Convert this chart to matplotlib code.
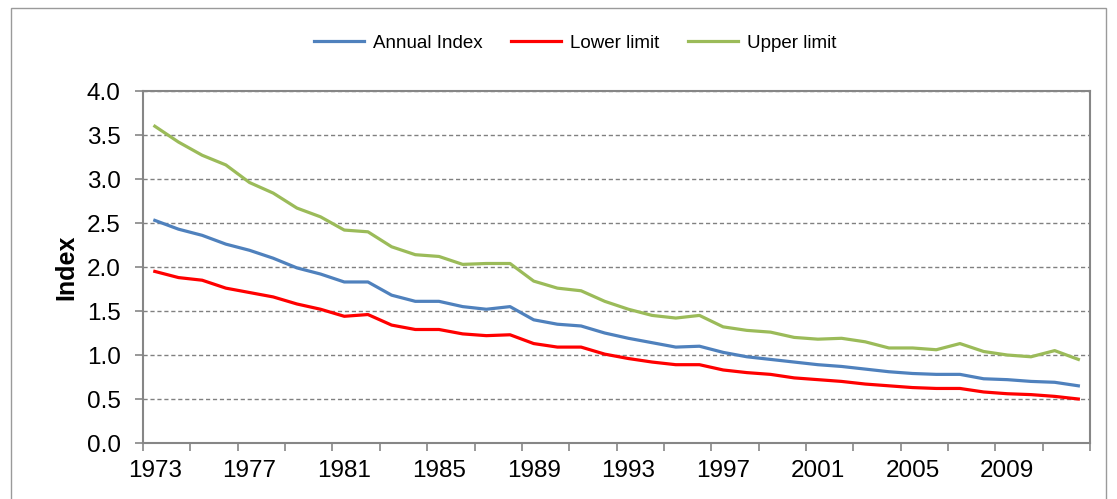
import matplotlib.pyplot as plt
from matplotlib.patches import Rectangle

plt.rcParams['font.family'] = ['Liberation Sans', 'DejaVu Sans']

# Data
years = list(range(1973, 2013))
annual_index = [2.53, 2.43, 2.36, 2.26, 2.19, 2.10, 1.99, 1.92, 1.83, 1.83,
                1.68, 1.61, 1.61, 1.55, 1.52, 1.55, 1.40, 1.35, 1.33, 1.25,
                1.19, 1.14, 1.09, 1.10, 1.03, 0.98, 0.95, 0.92, 0.89, 0.87,
                0.84, 0.81, 0.79, 0.78, 0.78, 0.73, 0.72, 0.70, 0.69, 0.65]
lower_limit = [1.95, 1.88, 1.85, 1.76, 1.71, 1.66, 1.58, 1.52, 1.44, 1.46,
               1.34, 1.29, 1.29, 1.24, 1.22, 1.23, 1.13, 1.09, 1.09, 1.01,
               0.96, 0.92, 0.89, 0.89, 0.83, 0.80, 0.78, 0.74, 0.72, 0.70,
               0.67, 0.65, 0.63, 0.62, 0.62, 0.58, 0.56, 0.55, 0.53, 0.50]
upper_limit = [3.60, 3.42, 3.27, 3.16, 2.96, 2.84, 2.67, 2.57, 2.42, 2.40,
               2.23, 2.14, 2.12, 2.03, 2.04, 2.04, 1.84, 1.76, 1.73, 1.61,
               1.52, 1.45, 1.42, 1.45, 1.32, 1.28, 1.26, 1.20, 1.18, 1.19,
               1.15, 1.08, 1.08, 1.06, 1.13, 1.04, 1.00, 0.98, 1.05, 0.95]
tick_years = list(range(1973, 2013, 4))

fig = plt.figure(figsize=(11.17, 4.99), dpi=100)
fig.patches.append(Rectangle((0.010, -0.05), 0.980, 1.034, transform=fig.transFigure,
                             fill=False, edgecolor='#9a9a9a', linewidth=1))
ax = fig.add_axes([0.128, 0.1122, 0.848, 0.7054])

ax.plot(years, annual_index, color='#4F81BD', linewidth=2.3, label='Annual Index')
ax.plot(years, lower_limit, color='#FF0000', linewidth=2.3, label='Lower limit')
ax.plot(years, upper_limit, color='#9BBB59', linewidth=2.3, label='Upper limit')

ax.set_xlim(1972.5, 2012.5)
ax.set_ylim(0, 4.0)
ax.set_yticks([i * 0.5 for i in range(9)])
ax.set_yticklabels([f"{i * 0.5:.1f}" for i in range(9)], fontsize=17.5)
ax.set_xticks(tick_years)
ax.set_xticklabels([str(y) for y in tick_years], fontsize=17.5)
ax.tick_params(axis='x', which='major', length=0, pad=12)
ax.set_xticks([1972.5 + 2 * k for k in range(21)], minor=True)
ax.tick_params(axis='x', which='minor', length=6, color='#868686', width=1.2)
ax.tick_params(axis='y', length=6, color='#868686', width=1.2, pad=10)

ax.grid(axis='y', color='#808080', linestyle=(0, (3, 2)), linewidth=1)
for s in ax.spines.values():
    s.set_color('#868686')
    s.set_linewidth(1.5)

ax.set_ylabel("Index", fontsize=18, fontweight='bold', labelpad=6)

fig.legend(loc='center', bbox_to_anchor=(0.515, 0.913), ncol=3, frameon=False,
           fontsize=13.5, handlelength=2.67, handletextpad=0.5, columnspacing=1.5)

plt.savefig('out.png', dpi=100)
